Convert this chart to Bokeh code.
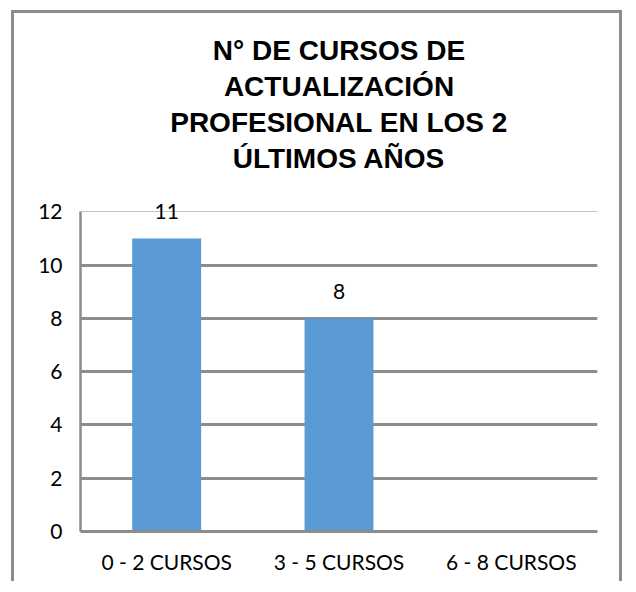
from bokeh.plotting import figure
from bokeh.models import ColumnDataSource, Range1d, FixedTicker, Grid, Title, LabelSet
from bokeh.core.properties import value
from bokeh.embed import file_html
from bokeh.resources import INLINE

categories = ["0 - 2 CURSOS", "3 - 5 CURSOS", "6 - 8 CURSOS"]
values = [11, 8, 0]
labels = ["11", "8", ""]
title_lines = ["N° DE CURSOS DE", "ACTUALIZACIÓN", "PROFESIONAL EN LOS 2", "ÚLTIMOS AÑOS"]
y_ticks = [0, 2, 4, 6, 8, 10, 12]

source = ColumnDataSource(data=dict(cat=categories, val=values, lab=labels))

p = figure(
    x_range=categories,
    y_range=Range1d(0, 12.5),
    width=611,
    height=571,
    output_backend="svg",
    toolbar_location=None,
    min_border_left=66,
    min_border_right=28,
    min_border_bottom=53,
    min_border_top=10,
    styles={
        "border-left": "3px solid #8c8c8c",
        "border-top": "3px solid #8c8c8c",
        "border-right": "3px solid #8c8c8c",
        "margin-left": "11px",
        "margin-top": "10px",
    },
)
p.title.visible = False
p.outline_line_color = None

p.vbar(x="cat", top="val", width=0.4, source=source, fill_color="#5b9bd5", line_color=None)

labelset = LabelSet(x="cat", y="val", text="lab", source=source, text_align="center",
                    text_baseline="bottom", y_offset=19, text_font=value("Lato"),
                    text_font_size=value("21px"), text_color="#000000")
p.add_layout(labelset)

# spacer closest to the plot frame
p.add_layout(Title(text=" ", text_font_size="14px", standoff=5), "above")
for line in reversed(title_lines):
    t = Title(text=line, align="center", text_font="Liberation Sans", text_font_style="bold",
              text_font_size="28px", text_color="#000000", standoff=3)
    p.add_layout(t, "above")
# spacer at the top
p.add_layout(Title(text=" ", text_font_size="14px", standoff=0), "above")

p.xgrid.grid_line_color = None
p.ygrid.ticker = FixedTicker(ticks=y_ticks[:-1])
p.ygrid.grid_line_color = "#8c8c8c"
p.ygrid.grid_line_width = 3
top_grid = Grid(dimension=1, ticker=FixedTicker(ticks=y_ticks[-1:]),
                grid_line_color="#c4c4c4", grid_line_width=1)
p.add_layout(top_grid)

p.yaxis.ticker = FixedTicker(ticks=y_ticks)
p.yaxis.bounds = (y_ticks[0], y_ticks[-1])
p.yaxis.axis_line_color = "#8c8c8c"
p.yaxis.axis_line_width = 2.5
p.yaxis.major_tick_line_color = None
p.yaxis.minor_tick_line_color = None
p.yaxis.major_label_standoff = 12
p.yaxis.major_label_text_font = "Lato"
p.yaxis.major_label_text_font_size = "21px"
p.yaxis.major_label_text_color = "#000000"

p.xaxis.axis_line_color = "#8c8c8c"
p.xaxis.axis_line_width = 3
p.xaxis.major_tick_line_color = None
p.xaxis.minor_tick_line_color = None
p.xaxis.major_label_standoff = 11
p.xaxis.major_label_text_font = "Lato"
p.xaxis.major_label_text_font_size = "21px"
p.xaxis.major_label_text_color = "#000000"

open("out.html", "w").write(file_html(p, INLINE))
